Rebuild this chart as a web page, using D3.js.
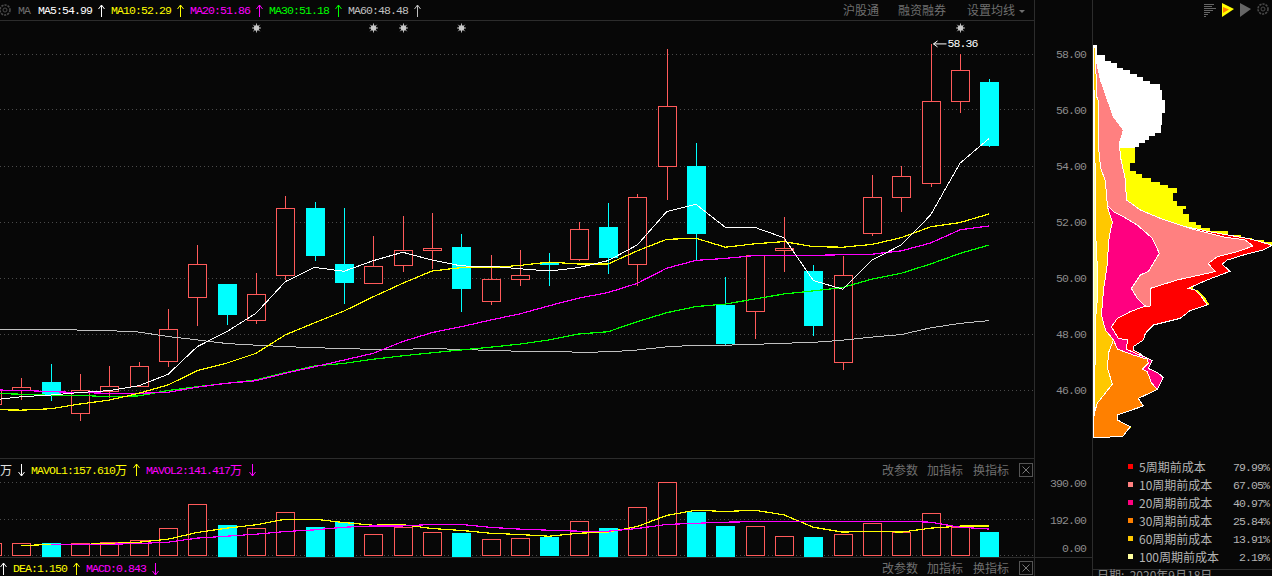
<!DOCTYPE html>
<html>
<head>
<meta charset="utf-8">
<script src="https://cdn.jsdelivr.net/npm/d3@7"></script>
<style>
  html, body { margin: 0; padding: 0; background: #070707; overflow: hidden; }
  svg { display: block; }
  text { white-space: pre; }
  .mono { font-family: "Liberation Mono", "DejaVu Sans Mono", monospace; font-size: 11.5px; letter-spacing: -0.9px; }
  .cjk { font-family: "Noto Sans CJK SC", sans-serif; font-size: 12px; }
  .mark, .grid, .frame { shape-rendering: crispEdges; }
</style>
</head>
<body>
<div id="chart"></div>
<script>
var width = 1272;
var height = 576;

// candles, oldest first
var opens  = [45.50,45.98,46.29,45.17,45.95,46.13,47.03,49.31,49.79,48.49,50.08,52.50,50.50,49.81,50.46,50.99,51.11,49.15,49.95,50.53,50.67,51.82,50.49,53.99,54.00,49.04,48.81,50.98,50.25,46.99,51.58,52.88,53.38,56.31,57.00];
var closes = [46.00,46.10,45.82,45.99,46.13,46.85,48.17,50.49,48.73,49.42,52.49,50.83,49.87,50.42,50.99,51.06,49.66,49.95,50.10,50.48,51.74,50.76,52.88,56.13,51.62,47.69,50.81,51.06,48.33,50.10,52.88,53.63,56.31,57.42,54.76];
var highs  = [46.00,46.43,46.93,46.57,46.86,46.99,48.89,51.18,49.79,50.18,52.93,52.72,52.50,51.50,52.21,52.32,51.57,50.82,51.00,50.89,52.00,52.68,53.00,58.18,54.82,50.03,50.81,52.17,50.47,50.79,53.68,54.00,58.36,57.99,57.10];
var lows   = [45.50,45.64,45.61,44.90,45.72,46.13,46.83,48.30,48.32,48.37,49.93,50.61,49.08,49.81,50.23,50.32,48.80,49.05,49.72,49.72,50.61,50.16,49.72,52.79,50.64,47.60,47.83,50.23,47.94,46.73,51.51,52.37,53.26,55.90,54.69];

var ma5  = [45.64,45.76,45.82,45.91,45.98,46.15,46.56,47.55,48.08,48.74,49.87,50.38,50.24,50.62,50.92,50.64,50.43,50.42,50.33,50.25,50.37,50.62,51.18,52.37,52.63,51.81,51.81,51.44,49.91,49.60,50.64,51.18,52.25,54.10,54.99];
var ma10 = [45.30,45.28,45.33,45.50,45.64,45.88,46.18,46.69,46.96,47.31,47.97,48.40,48.82,49.33,49.81,50.25,50.37,50.37,50.45,50.57,50.50,50.50,50.97,51.38,51.42,51.10,51.22,51.30,51.12,51.10,51.20,51.44,51.83,51.98,52.29];
var ma20 = [46.00,45.99,45.94,45.91,45.88,45.88,45.92,46.10,46.24,46.33,46.60,46.83,47.07,47.31,47.73,48.05,48.26,48.50,48.72,49.01,49.28,49.48,49.81,50.35,50.63,50.70,50.80,50.81,50.81,50.83,50.85,50.97,51.25,51.72,51.86];
var ma30 = [45.88,45.85,45.81,45.81,45.76,45.79,45.98,46.12,46.24,46.36,46.62,46.86,46.95,47.10,47.22,47.33,47.43,47.53,47.64,47.79,48.00,48.08,48.44,48.76,48.98,49.07,49.25,49.43,49.54,49.66,49.96,50.17,50.50,50.88,51.18];
var ma60 = [48.17,48.17,48.17,48.14,48.12,48.07,47.91,47.79,47.66,47.60,47.55,47.51,47.48,47.45,47.45,47.49,47.44,47.42,47.38,47.38,47.35,47.36,47.43,47.54,47.60,47.60,47.63,47.67,47.70,47.78,47.89,47.98,48.22,48.38,48.48];
var maColors = ["#ffffff", "#ffff00", "#ff00ff", "#00ff00", "#c0c0c0"];
var maWidths = [1, 1.2, 1.2, 1.2, 1];

var priceTicks = [58, 56, 54, 52, 50, 48, 46];
var starCandles = [9, 13, 14, 16, 33];

// volume panel, in 万
var volumes = [66,66,68,66,71,82,146,274,164,146,231,153,180,114,151,125,121,87,93,98,183,148,258,392,233,159,157,103,100,114,173,125,226,151,126];
var mavol1  = [null,53,59,59,64,71,87,123,146,164,194,194,176,162,165,144,134,119,112,103,119,125,155,214,242,235,242,217,151,125,130,125,146,157,157.6];
var mavol2  = [null,null,59,59,60,64,71,93,103,114,128,137,151,158,158,166,166,150,141,135,130,130,144,166,172,178,181,183,183,183,183,183,178,151,141.4];
var volumeTicks = [390, 192, 0];

// chip distribution, [price, share] down the right edge of each layer
var chipWhite = [[58.32,2],[57.96,4],[57.76,12],[57.67,18],[57.51,24],[57.43,30],[57.29,37],[57.17,44],[57.04,50],[56.93,57],[56.71,67],[56.36,69],[55.88,72],[55.46,69],[55.19,68],[55.07,62],[54.93,56],[54.81,52],[54.67,46],[54.63,42]];
var chipYellow = [[54.63,42],[54.10,42],[53.82,37],[53.71,43],[53.57,49],[53.44,58],[53.32,67],[53.21,75],[53.05,84],[52.75,80],[52.57,84],[52.46,93],[52.29,90],[52.20,96],[52.00,96],[51.89,103],[51.79,108],[51.68,117],[51.54,135],[51.43,148],[51.36,159],[51.30,171],[51.20,179]];
var chipYellowEdge = [[51.20,179],[50.40,100],[50.26,139],[50.10,100],[49.60,100],[49.55,105],[49.30,112],[49.05,116],[48.90,15],[47.30,15],[47.20,48],[47.10,55],[46.95,60],[46.90,15],[46.55,15],[46.52,67],[46.40,68],[46.30,15],[44.72,15],[44.68,39],[44.60,35],[44.30,0]];
var chipRed = [[51.89,85],[51.65,117],[51.38,159],[51.17,179],[51,170],[50.86,154],[50.64,134],[50.49,129],[50.24,137],[49.93,114],[49.63,95],[49.57,102],[49.39,107],[49.04,114],[48.84,97],[48.56,87],[48.32,60],[48.02,52],[47.79,50],[47.55,40],[47.43,40],[47.29,47],[47.14,52],[47.07,0]];
var chipSalmon = [[57.90,2],[57.07,7],[56.36,14],[55.76,20],[55.29,30],[54.81,26],[54.33,27],[53.50,32],[52.79,33],[52.43,47],[52.13,67],[51.77,97],[51.47,130],[51.36,152],[51.14,160],[50.94,144],[50.76,124],[50.52,115],[50.23,122],[49.93,84],[49.63,57],[49.00,57],[48.90,0]];
var chipPink = [[52.58,14],[52.37,20],[52.19,30],[51.89,44],[51.42,59],[50.88,66],[50.23,55],[50.11,47],[49.63,38],[49.27,44],[49.00,52],[48.80,37],[48.56,24],[48.26,18],[47.96,23],[47.84,25],[47.79,34],[47.46,33],[47.28,44],[47.14,54],[47.05,59],[46.77,55],[46.60,65],[46.44,70],[46.02,64],[45.99,0]];
var chipOrange = [[47.79,20],[47.46,24],[47.25,40],[47.10,54],[46.96,55],[46.75,49],[46.65,54],[46.26,58],[46.02,64],[45.70,45],[45.43,50],[45.11,24],[44.93,24],[44.69,37],[44.33,29],[44.31,0]];
var chipGold = [[58.32,1],[58.14,2],[56.50,3],[56.30,5],[54.70,5],[53.96,7],[53.44,12],[52.54,14],[52,19],[51.70,17],[51.25,15],[50.52,14],[49.57,10],[48.68,8],[48.14,12],[47.79,20],[47.32,15],[46.77,14],[46.21,19],[45.54,4],[45.21,1]];
var chipPale = [[56.70,1],[51.70,2],[50.27,4],[49.32,4],[48.50,2],[45.10,1]];
var chipStairs = [[chipWhite, "#ffffff"], [chipYellow, "#ffff00"]];
var chipLayers = [[chipRed, "#ff0000"], [chipSalmon, "#ff8080"], [chipPink, "#ff0080"], [chipOrange, "#ff8000"], [chipGold, "#ffc800"], [chipPale, "#ffff9e"]];

var legendNames = ["5周期前成本", "10周期前成本", "20周期前成本", "30周期前成本", "60周期前成本", "100周期前成本"];
var legendPcts = ["79.99%", "67.05%", "40.97%", "25.84%", "13.91%", "2.19%"];
var legendColors = ["#ff0000", "#ff8080", "#ff0080", "#ff8000", "#ffc800", "#ffff9e"];

var candleUp = "#ff5a5a";
var candleDown = "#00ffff";
var muted = "#6f6f6f";
var axisText = "#8c8c8c";
var frame = "#2c2c2c";

var svg = d3.select("#chart").append("svg")
  .attr("width", width)
  .attr("height", height);

var x = d3.scaleLinear().domain([0, 34]).range([-8, 989.3]);
var y = d3.scaleLinear().domain([46, 58]).range([390, 54]);
var yVol = d3.scaleLinear().domain([0, 390]).range([555.5, 482.5]);
var xChip = d3.scaleLinear().domain([0, 179]).range([1093.5, 1272]);

function px(v) {
  return Math.round(v) + 0.5;
}

// frame lines
function hline(x1, x2, yy) {
  svg.append("line").attr("class", "frame").attr("x1", x1).attr("x2", x2).attr("y1", yy).attr("y2", yy)
    .attr("stroke", frame);
}
function vline(xx, y1, y2) {
  svg.append("line").attr("class", "frame").attr("x1", xx).attr("x2", xx).attr("y1", y1).attr("y2", y2)
    .attr("stroke", frame);
}
hline(0, 1034, 20.5);
hline(0, 1034, 458.5);
hline(0, 1092, 557.5);
hline(1093, 1272, 569.5);
vline(1034.5, 0, 576);
vline(1092.5, 0, 576);

// dotted grid
svg.append("g").selectAll("line").data(priceTicks).enter().append("line")
  .attr("class", "grid")
  .attr("x1", 0).attr("x2", 1034)
  .attr("y1", d => px(y(d) - 0.5)).attr("y2", d => px(y(d) - 0.5))
  .attr("stroke", "#4a4a4a").attr("stroke-dasharray", "1,3");
svg.append("g").selectAll("line").data(volumeTicks).enter().append("line")
  .attr("class", "grid")
  .attr("x1", 0).attr("x2", 1034)
  .attr("y1", d => px(yVol(d) - 0.5)).attr("y2", d => px(yVol(d) - 0.5))
  .attr("stroke", "#4a4a4a").attr("stroke-dasharray", "1,3");

// candles
var candles = d3.range(opens.length);
var rise = i => closes[i] >= opens[i];
svg.append("g").selectAll("line").data(candles).enter().append("line")
  .attr("class", "mark")
  .attr("x1", i => px(x(i))).attr("x2", i => px(x(i)))
  .attr("y1", i => y(highs[i])).attr("y2", i => y(lows[i]))
  .attr("stroke", i => rise(i) ? candleUp : candleDown);
svg.append("g").selectAll("rect").data(candles).enter().append("rect")
  .attr("class", "mark")
  .attr("x", i => px(x(i)) - 9)
  .attr("width", 18)
  .attr("y", i => px(y(Math.max(opens[i], closes[i]))))
  .attr("height", i => Math.max(1, Math.round(Math.abs(y(opens[i]) - y(closes[i])))))
  .attr("fill", i => rise(i) ? "#070707" : candleDown)
  .attr("stroke", i => rise(i) ? candleUp : candleDown);

// moving averages
var maLine = d3.line().x((d, i) => x(i)).y(d => y(d));
[ma60, ma30, ma20, ma10, ma5].forEach((s, k) => {
  svg.append("path").attr("d", maLine(s))
    .attr("fill", "none")
    .attr("stroke", maColors[4 - k])
    .attr("stroke-width", maWidths[4 - k])
    .attr("shape-rendering", "crispEdges");
});

// stars over the candles
var stars = svg.append("g").selectAll("g").data(starCandles).enter().append("g")
  .attr("transform", i => "translate(" + px(x(i)) + ",28)");
stars.append("circle").attr("r", 2.8).attr("fill", "#c8c8c8");
d3.range(4).forEach(k => {
  stars.append("line").attr("x1", -4.5).attr("x2", 4.5).attr("y1", 0).attr("y2", 0)
    .attr("stroke", "#c8c8c8").attr("stroke-width", 0.9)
    .attr("transform", "rotate(" + k * 45 + ")");
});

// high marker
var hx = px(x(32)) + 2;
svg.append("path").attr("d", "M" + hx + "," + y(58.36) + "H" + (hx + 13) + "M" + (hx + 4) + "," + (y(58.36) - 3) + "L" + hx + "," + y(58.36) + "L" + (hx + 4) + "," + (y(58.36) + 3))
  .attr("fill", "none").attr("stroke", "#fff");
svg.append("text").attr("class", "mono").attr("x", hx + 14).attr("y", y(58.36) + 3.5).attr("fill", "#fff").text("58.36");

// price axis
svg.append("g").selectAll("text").data(priceTicks).enter().append("text")
  .attr("class", "mono")
  .attr("x", 1086).attr("y", d => y(d) + 4)
  .attr("text-anchor", "end").attr("fill", axisText)
  .text(d => d3.format(".2f")(d));

// volume bars
svg.append("g").selectAll("rect").data(candles).enter().append("rect")
  .attr("class", "mark")
  .attr("x", i => px(x(i)) - 9)
  .attr("width", 18)
  .attr("y", i => px(yVol(volumes[i])))
  .attr("height", i => Math.round(yVol(0) - yVol(volumes[i])))
  .attr("fill", i => rise(i) ? "#070707" : candleDown)
  .attr("stroke", i => rise(i) ? candleUp : candleDown);

var volLine = d3.line().defined(d => d !== null).x((d, i) => x(i)).y(d => yVol(d));
[[mavol1, "#ffff00"], [mavol2, "#ff00ff"]].forEach(s => {
  svg.append("path").attr("d", volLine(s[0]))
    .attr("fill", "none").attr("stroke", s[1])
    .attr("stroke-width", 1.2)
    .attr("shape-rendering", "crispEdges");
});

svg.append("g").selectAll("text").data(volumeTicks).enter().append("text")
  .attr("class", "mono")
  .attr("x", 1086).attr("y", d => d == 0 ? 552 : yVol(d) + 4)
  .attr("text-anchor", "end").attr("fill", axisText)
  .text(d => d3.format(".2f")(d));

// chip distribution
var chipArea = d3.area()
  .x0(xChip(0))
  .x1(d => xChip(d[1]))
  .y(d => y(d[0]));
chipStairs.forEach(l => {
  svg.append("path").attr("d", chipArea.curve(d3.curveStepAfter)(l[0]))
    .attr("fill", l[1]).attr("shape-rendering", "crispEdges");
});
svg.append("path").attr("d", chipArea.curve(d3.curveLinear)(chipYellowEdge))
  .attr("fill", "#ffff00").attr("shape-rendering", "crispEdges");
chipLayers.forEach(l => {
  svg.append("path").attr("d", chipArea.curve(d3.curveLinear)(l[0]))
    .attr("fill", l[1]).attr("stroke", "#fff").attr("stroke-width", 1)
    .attr("shape-rendering", "crispEdges");
});

// legend of the chip panel
var legend = svg.append("g").selectAll("g").data(legendNames).enter().append("g")
  .attr("transform", (d, i) => "translate(0," + [467, 485.2, 503, 521.2, 539.2, 557.2][i] + ")");
legend.append("rect").attr("class", "mark").attr("x", 1128).attr("y", -3).attr("width", 5).attr("height", 5)
  .attr("fill", (d, i) => legendColors[i]);
legend.append("text").attr("class", "cjk").attr("x", 1139).attr("y", 4.5).attr("fill", "#b4b4b4").text(d => d);
legend.append("text").attr("class", "mono").attr("x", 1269).attr("y", 4).attr("text-anchor", "end").attr("fill", "#b4b4b4")
  .text((d, i) => legendPcts[i]);

svg.append("text").attr("class", "cjk").attr("x", 1097).attr("y", 580).attr("fill", axisText)
  .text("日期:  2020年9月18日");

// header texts
function label(cls, tx, ty, color, s) {
  return svg.append("text").attr("class", cls).attr("x", tx).attr("y", ty).attr("fill", color).text(s);
}
function arrow(ax, ay, up, color) {
  var tip = up ? ay - 6 : ay + 6;
  var back = up ? tip + 4 : tip - 4;
  svg.append("path")
    .attr("d", "M" + ax + "," + (ay - 6) + "V" + (ay + 6) + "M" + (ax - 3) + "," + back + "L" + ax + "," + tip + "L" + (ax + 3) + "," + back)
    .attr("fill", "none").attr("stroke", color);
}
label("mono", 18, 14, muted, "MA");
label("mono", 38, 14, "#ffffff", "MA5:54.99");   arrow(101.5, 11, true, "#ffffff");
label("mono", 111, 14, "#ffff00", "MA10:52.29"); arrow(180.5, 11, true, "#ffff00");
label("mono", 190, 14, "#ff00ff", "MA20:51.86"); arrow(259.5, 11, true, "#ff00ff");
label("mono", 269, 14, "#00ff00", "MA30:51.18"); arrow(338.5, 11, true, "#00ff00");
label("mono", 348, 14, "#c0c0c0", "MA60:48.48"); arrow(417.5, 11, true, "#c0c0c0");

label("cjk", 843, 15, muted, "沪股通");
label("cjk", 898, 15, muted, "融资融券");
label("cjk", 967, 15, muted, "设置均线");
svg.append("path").attr("d", "M1019,10h6l-3,3z").attr("fill", muted);

label("cjk", 0, 475, "#e0e0e0", "万"); arrow(21.5, 470, false, "#ffffff");
label("mono", 31, 474, "#ffff00", "MAVOL1:157.610"); label("cjk", 115, 475, "#ffff00", "万"); arrow(136.5, 470, true, "#ffff00");
label("mono", 146, 474, "#ff00ff", "MAVOL2:141.417"); label("cjk", 230, 475, "#ff00ff", "万"); arrow(252.5, 470, false, "#ff00ff");

arrow(3.5, 569, true, "#ffffff");
label("mono", 13, 572, "#ffff00", "DEA:1.150"); arrow(76.5, 569, true, "#ffff00");
label("mono", 86, 572, "#ff00ff", "MACD:0.843"); arrow(155.5, 569, false, "#ff00ff");

// panel buttons
[475, 573].forEach(ty => {
  label("cjk", 882, ty, muted, "改参数");
  label("cjk", 927, ty, muted, "加指标");
  label("cjk", 973, ty, muted, "换指标");
  svg.append("rect").attr("class", "frame").attr("x", 1019.5).attr("y", ty - 11.5).attr("width", 13).attr("height", 13)
    .attr("fill", "none").attr("stroke", "#555");
  svg.append("path").attr("d", "M" + 1022.5 + "," + (ty - 8.5) + "l7,7m0,-7l-7,7").attr("stroke", "#777").attr("fill", "none");
});

// toolbar icons
function gear(cx, cy, color) {
  svg.append("circle").attr("cx", cx).attr("cy", cy).attr("r", 5).attr("fill", "none").attr("stroke", color).attr("stroke-width", 1.6).attr("stroke-dasharray", "2.2,1");
  svg.append("circle").attr("cx", cx).attr("cy", cy).attr("r", 2).attr("fill", "none").attr("stroke", color);
}
gear(5, 10, "#4a4a4a");
gear(1263, 9, "#4a4a4a");
[10, 8, 12, 9, 6, 4, 2].forEach((w, i) => {
  svg.append("line").attr("class", "frame").attr("x1", 1204).attr("x2", 1204 + w)
    .attr("y1", 4.5 + i * 2).attr("y2", 4.5 + i * 2).attr("stroke", "#666");
});
svg.append("path").attr("d", "M1222,3L1234,9L1222,17Z").attr("fill", "#ffff00");
svg.append("path").attr("d", "M1223,7L1229,9.5L1223,13Z").attr("fill", "#ff8000");
svg.append("path").attr("d", "M1240,3L1251,9L1240,17Z").attr("fill", "#666");
</script>
</body>
</html>
